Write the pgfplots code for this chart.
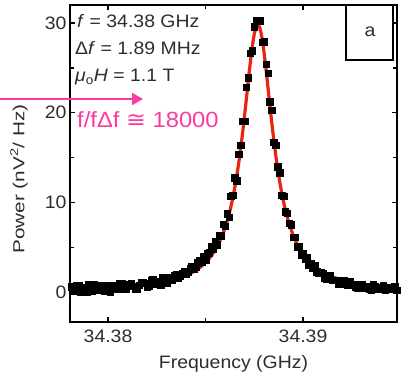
\documentclass[border=0pt]{standalone}
\usepackage{fontspec}
\setmainfont{Liberation Sans}[FakeStretch=1.08]
\newfontfamily\djv{DejaVu Sans}[FakeStretch=1.08]
\usepackage{pgfplots}
\pgfplotsset{compat=1.18}
\usepackage{pgfplotstable}
\usetikzlibrary{arrows.meta}
\definecolor{pinkc}{RGB}{250,60,160}
\definecolor{redc}{RGB}{235,35,20}
\definecolor{txt}{RGB}{45,45,45}

\pgfplotstableread{
x y
34.3781 0.59
34.3782 0.19
34.3783 0.10
34.3784 0.71
34.3785 0.71
34.3786 0.02
34.3787 0.43
34.3788 0.53
34.3789 0.04
34.3790 0.85
34.3791 0.56
34.3792 0.17
34.3793 0.87
34.3794 0.48
34.3795 0.29
34.3796 0.80
34.3797 0.41
34.3798 0.12
34.3799 0.73
34.3800 0.44
34.3801 0.06
34.3802 0.77
34.3803 0.68
34.3804 0.39
34.3805 0.61
34.3806 1.02
34.3807 0.94
34.3808 0.35
34.3809 0.37
34.3810 0.79
34.3811 0.90
34.3812 1.02
34.3813 0.64
34.3814 0.36
34.3815 0.38
34.3816 0.80
34.3817 1.13
34.3818 1.05
34.3819 0.98
34.3820 0.60
34.3821 0.73
34.3822 1.26
34.3823 1.39
34.3824 0.93
34.3825 1.06
34.3826 1.20
34.3827 0.84
34.3828 1.68
34.3829 1.42
34.3830 1.07
34.3831 1.62
34.3832 1.57
34.3833 1.33
34.3834 1.89
34.3835 1.95
34.3836 1.62
34.3837 1.79
34.3838 2.07
34.3839 2.35
34.3840 2.05
34.3841 2.24
34.3842 2.65
34.3843 2.86
34.3844 2.59
34.3845 2.82
34.3846 3.27
34.3847 3.52
34.3848 3.40
34.3849 3.99
34.3850 3.60
34.3851 4.32
34.3852 4.38
34.3853 5.06
34.3854 4.77
34.3855 5.61
34.3856 5.30
34.3857 6.33
34.3858 6.31
34.3859 7.55
34.3860 7.36
34.3861 8.75
34.3862 8.33
34.3863 10.71
34.3864 10.81
34.3865 12.75
34.3866 12.42
34.3867 15.36
34.3868 16.36
34.3869 19.03
34.3870 19.03
34.3871 22.84
34.3872 23.89
34.3873 26.65
34.3874 26.89
34.3875 29.56
34.3876 30.29
34.3877 30.19
34.3878 30.23
34.3879 27.87
34.3880 27.93
34.3881 25.39
34.3882 24.37
34.3883 21.23
34.3884 20.25
34.3885 16.70
34.3886 16.40
34.3887 13.96
34.3888 13.29
34.3889 10.77
34.3890 10.70
34.3891 8.95
34.3892 8.81
34.3893 7.67
34.3894 7.51
34.3895 6.13
34.3896 6.11
34.3897 5.05
34.3898 5.14
34.3899 4.17
34.3900 4.34
34.3901 3.64
34.3902 3.87
34.3903 3.03
34.3904 3.21
34.3905 2.71
34.3906 2.93
34.3907 2.26
34.3908 2.10
34.3909 2.16
34.3910 2.13
34.3911 1.61
34.3912 1.50
34.3913 1.80
34.3914 1.81
34.3915 1.32
34.3916 1.34
34.3917 1.36
34.3918 0.89
34.3919 0.92
34.3920 1.26
34.3921 1.30
34.3922 0.85
34.3923 0.80
34.3924 1.25
34.3925 0.90
34.3926 0.76
34.3927 0.52
34.3928 0.48
34.3929 0.85
34.3930 0.91
34.3931 0.48
34.3932 0.65
34.3933 0.62
34.3934 0.39
34.3935 0.27
34.3936 0.84
34.3937 0.62
34.3938 0.39
34.3939 0.37
34.3940 0.55
34.3941 0.73
34.3942 0.21
34.3943 0.30
34.3944 0.58
34.3945 0.46
34.3946 0.35
34.3947 0.63
34.3948 0.22
34.3949 0.30
}\datatable

\pgfplotstableread{
x y
34.3781 0.287
34.3785 0.312
34.3789 0.341
34.3793 0.374
34.3797 0.412
34.3801 0.456
34.3805 0.508
34.3809 0.568
34.3813 0.640
34.3817 0.727
34.3821 0.831
34.3825 0.960
34.3829 1.121
34.3833 1.325
34.3837 1.591
34.3841 1.941
34.3845 2.418
34.3847 2.724
34.3849 3.087
34.3851 3.524
34.3853 4.058
34.3855 4.714
34.3857 5.529
34.3858 6.010
34.3859 6.552
34.3860 7.162
34.3861 7.851
34.3862 8.630
34.3863 9.512
34.3864 10.51
34.3865 11.65
34.3866 12.92
34.3867 14.36
34.3868 15.96
34.3869 17.73
34.3870 19.63
34.3871 21.64
34.3872 23.69
34.3873 25.65
34.3874 27.39
34.3875 28.76
34.3876 29.59
34.3877 29.79
34.3878 29.33
34.3879 28.27
34.3880 26.73
34.3881 24.89
34.3882 22.87
34.3883 20.83
34.3884 18.85
34.3885 17.00
34.3886 15.30
34.3887 13.76
34.3888 12.39
34.3889 11.17
34.3890 10.10
34.3891 9.147
34.3892 8.308
34.3893 7.566
34.3894 6.909
34.3895 6.328
34.3896 5.811
34.3897 5.351
34.3899 4.571
34.3901 3.943
34.3903 3.431
34.3905 3.009
34.3907 2.658
34.3911 2.113
34.3915 1.719
34.3919 1.423
34.3923 1.197
34.3927 1.020
34.3931 0.879
34.3935 0.766
34.3939 0.672
34.3943 0.595
34.3947 0.530
34.3949 0.502
}\fittable

\begin{document}
\begin{tikzpicture}
\useasboundingbox (0,0) rectangle (401pt,-377pt);
\begin{axis}[
  at={(70pt,-322pt)}, anchor=south west,
  scale only axis, width=327pt, height=317pt,
  xmin=34.37805, xmax=34.39482,
  ymin=-3.33, ymax=32,
  xtick={34.38,34.39}, xticklabels={34.38,34.39},
  minor xtick={34.385},
  ytick={0,10,20,30}, minor ytick={5,15,25},
  scaled x ticks=false,
  tick align=inside,
  major tick length=5pt, minor tick length=4pt,
  every tick/.style={line width=1.5pt, black},
  axis line style={line width=2pt},
  /pgf/number format/assume math mode=true,
  ticklabel style={font=\fontsize{18}{20}\selectfont, text=txt},
  xticklabel style={yshift=-4pt},
  xlabel={Frequency (GHz)},
  xlabel style={font=\fontsize{18}{20}\selectfont, text=txt, yshift=-6pt},
  clip=true,
]
\addplot[only marks, mark=square*, mark size=3.2pt, black] table[x=x,y=y] {\datatable};
\addplot[redc, line width=3.2pt, smooth, no marks] table[x=x,y=y] {\fittable};
\end{axis}
\node[rotate=90, text=txt, font=\fontsize{16}{18}\selectfont] at (19pt,-179pt) {\scalebox{1.2}[1]{Power (nV\textsuperscript{2}/ Hz)}};
\begin{scope}[every node/.style={anchor=base west, text=txt, font=\fontsize{18}{20}\selectfont, inner sep=0pt}]
\node at (77pt,-28pt) {\textit{f} = 34.38 GHz};
\node at (75pt,-55pt) {Δ\textit{f} = 1.89 MHz};
\node at (75pt,-82pt) {\textit{μ}\textsubscript{o}\textit{H} = 1.1 T};
\end{scope}
\draw[line width=1.3pt, black] (346pt,-5pt) rectangle (393pt,-60pt);
\node[text=txt, font=\fontsize{18}{20}\selectfont] at (370pt,-32pt) {a};
\draw[pinkc, line width=2pt, -{Triangle[length=11pt,width=12pt]}] (0pt,-99pt) -- (143pt,-99pt);
\node[anchor=base west, inner sep=0pt, text=pinkc, font=\fontsize{22}{24}\selectfont] at (77pt,-127pt) {f/fΔf {\djv ≅} 18000};
\end{tikzpicture}
\end{document}
